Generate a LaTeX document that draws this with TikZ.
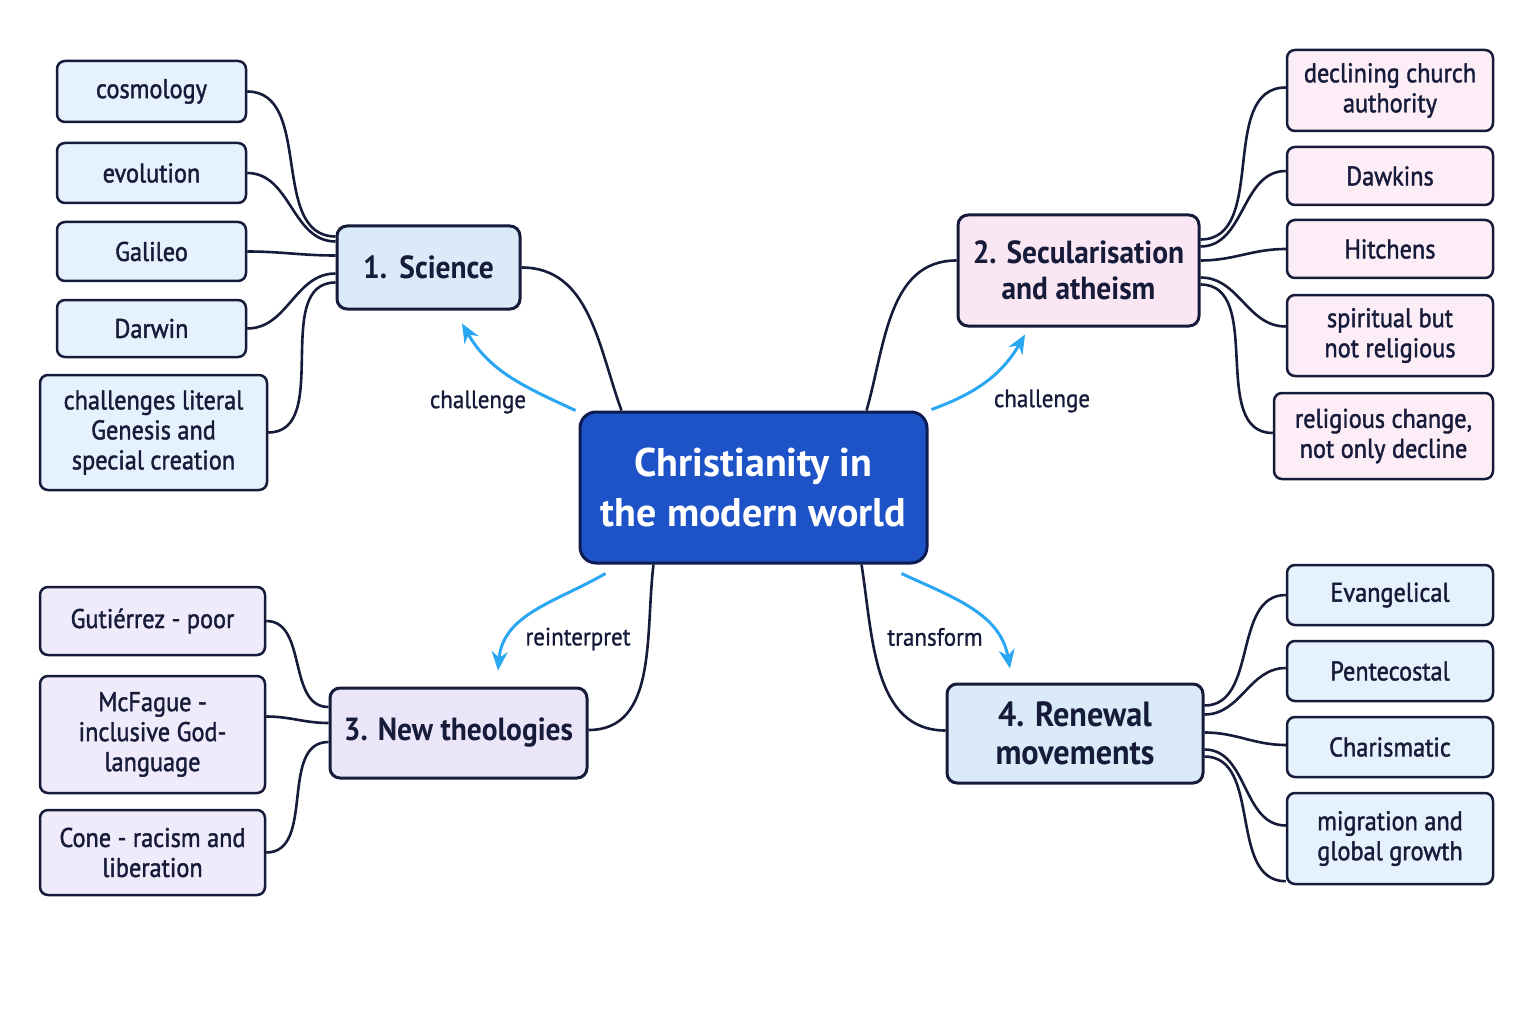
\documentclass[tikz,border=0pt]{standalone}
\usepackage{fontspec}
\setmainfont{PT Sans}
\newfontfamily\leaffont{PT Sans}[FakeStretch=0.9,FakeBold=1.5]
\newfontfamily\headfont{PT Sans}[FakeStretch=0.92]
\newfontfamily\cuefont{PT Sans}[FakeStretch=0.92,FakeBold=1]
\usetikzlibrary{arrows.meta}

\definecolor{inkNavy}{RGB}{22,27,58}
\definecolor{hubEdge}{RGB}{14,28,82}
\definecolor{hubBlue}{RGB}{30,82,199}
\definecolor{sciFill}{RGB}{218,234,249}
\definecolor{sciLeaf}{RGB}{229,241,252}
\definecolor{secFill}{RGB}{251,231,244}
\definecolor{secLeaf}{RGB}{252,237,247}
\definecolor{theoFill}{RGB}{235,229,249}
\definecolor{theoLeaf}{RGB}{240,235,251}
\definecolor{cueBlue}{RGB}{42,167,242}

\tikzset{every picture/.style={line width=2.5pt}}
\tikzset{
  hubbox/.style={draw=hubEdge, fill=hubBlue, line width=3pt, rounded corners=16pt, align=center,
    text=white, font=\bfseries\fontsize{40}{50}\selectfont, inner sep=0pt},
  branchbox/.style={draw=inkNavy, line width=3pt, rounded corners=10pt, align=center,
    text=inkNavy, font=\headfont\bfseries\fontsize{32}{36}\selectfont, inner sep=0pt},
  leafbox/.style={draw=inkNavy, rounded corners=8pt, align=center,
    text=inkNavy, font=\leaffont\fontsize{27}{30}\selectfont, inner sep=0pt},
  link/.style={draw=inkNavy, line width=2.6pt},
  cue/.style={draw=cueBlue, line width=3pt, -{Stealth[length=19pt,width=16pt]}},
  cuelabel/.style={text=inkNavy, font=\cuefont\fontsize{25}{28}\selectfont},
}

\begin{document}
\begin{tikzpicture}[x=1pt,y=-1pt]
  \fill[white] (0,0) rectangle (1536,1024);
  \useasboundingbox (0,0) rectangle (1536,1024);

  % centre and the four branches
  \node[hubbox, minimum width=347pt, minimum height=151pt] (hub) at (753.5,487.5) {Christianity in\\the modern world};
  \node[branchbox, fill=sciFill, minimum width=183pt, minimum height=83pt] (sci) at (428.5,267.5) {1.\ \hspace{5pt}Science};
  \node[branchbox, fill=secFill, minimum width=241pt, minimum height=111pt] (sec) at (1078.5,270.5) {2. Secularisation\\and atheism};
  \node[branchbox, fill=theoFill, minimum width=257pt, minimum height=90pt] (theo) at (458.5,733) {3. New theologies};
  \node[branchbox, fill=sciFill, minimum width=256pt, minimum height=99pt,
    font=\headfont\bfseries\fontsize{35}{38}\selectfont] (ren) at (1075,733.5) {4. Renewal\\movements};

  \node[leafbox, fill=sciLeaf, minimum width=189pt, minimum height=61pt] (cosmo) at (151.5,91.5) {cosmology};
  \node[leafbox, fill=sciLeaf, minimum width=189pt, minimum height=60pt] (evol) at (151.5,173) {evolution};
  \node[leafbox, fill=sciLeaf, minimum width=189pt, minimum height=59pt] (galil) at (151.5,251.5) {Galileo};
  \node[leafbox, fill=sciLeaf, minimum width=189pt, minimum height=57pt] (darw) at (151.5,328.5) {Darwin};
  \node[leafbox, fill=sciLeaf, minimum width=227pt, minimum height=115pt] (genes) at (153.5,432.5) {challenges literal\\Genesis and\\special creation};

  \node[leafbox, fill=secLeaf, minimum width=206pt, minimum height=81pt] (declin) at (1390,90.5) {declining church\\authority};
  \node[leafbox, fill=secLeaf, minimum width=206pt, minimum height=58pt] (dawk) at (1390,176) {Dawkins};
  \node[leafbox, fill=secLeaf, minimum width=206pt, minimum height=58pt] (hitch) at (1390,249) {Hitchens};
  \node[leafbox, fill=secLeaf, minimum width=206pt, minimum height=81pt] (spirit) at (1390,335.5) {spiritual but\\not religious};
  \node[leafbox, fill=secLeaf, minimum width=219pt, minimum height=86pt] (change) at (1383.5,436) {religious change,\\not only decline};

  \node[leafbox, fill=theoLeaf, minimum width=225pt, minimum height=68pt] (gutie) at (152.5,621) {Gutiérrez - poor};
  \node[leafbox, fill=theoLeaf, minimum width=225pt, minimum height=117pt] (mcfag) at (152.5,734.5) {McFague -\\inclusive God-\\language};
  \node[leafbox, fill=theoLeaf, minimum width=225pt, minimum height=85pt] (cone) at (152.5,852.5) {Cone - racism and\\liberation};

  \node[leafbox, fill=sciLeaf, minimum width=206pt, minimum height=60pt] (evang) at (1390,595) {Evangelical};
  \node[leafbox, fill=sciLeaf, minimum width=206pt, minimum height=60pt] (pente) at (1390,671) {Pentecostal};
  \node[leafbox, fill=sciLeaf, minimum width=206pt, minimum height=60pt] (chari) at (1390,747) {Charismatic};
  \node[leafbox, fill=sciLeaf, minimum width=206pt, minimum height=91pt] (migr) at (1390,838.5) {migration and\\global growth};

  % hub to branches
  \draw[link] (sci.east) to[out=0,in=110] ([xshift=43pt]hub.north west);
  \draw[link] ([xshift=-62pt]hub.north east) to[out=74,in=180] ([yshift=10pt]sec.west);
  \draw[link] ([xshift=75pt]hub.south west) to[out=-97,in=0] ([yshift=3pt]theo.east);
  \draw[link] ([xshift=-67pt]hub.south east) to[out=-81,in=180] ([yshift=3pt]ren.west);

  % branch to leaves
  \draw[link] (cosmo.east) to[out=0,in=180] ([yshift=31pt]sci.west);
  \draw[link] (evol.east) to[out=0,in=180] ([yshift=26pt]sci.west);
  \draw[link] (galil.east) to[out=0,in=180] ([yshift=12pt]sci.west);
  \draw[link] (darw.east) to[out=0,in=180] ([yshift=-6pt]sci.west);
  \draw[link] (genes.east) to[out=0,in=180] ([yshift=-15pt]sci.west);

  \draw[link] ([yshift=31pt]sec.east) to[out=0,in=180] ([yshift=3pt]declin.west);
  \draw[link] ([yshift=24pt]sec.east) to[out=0,in=180] ([yshift=5pt]dawk.west);
  \draw[link] ([yshift=10pt]sec.east) to[out=0,in=180] (hitch.west);
  \draw[link] ([yshift=-7pt]sec.east) to[out=0,in=180] ([yshift=9pt]spirit.west);
  \draw[link] ([yshift=-14pt]sec.east) to[out=0,in=180] ([yshift=3pt]change.west);

  \draw[link] (gutie.east) to[out=0,in=180] ([yshift=26pt]theo.west);
  \draw[link] ([yshift=18pt]mcfag.east) to[out=0,in=180] ([yshift=10pt]theo.west);
  \draw[link] (cone.east) to[out=0,in=180] ([yshift=-9pt]theo.west);

  \draw[link] ([yshift=28pt]ren.east) to[out=0,in=180] (evang.west);
  \draw[link] ([yshift=19pt]ren.east) to[out=0,in=180] ([yshift=3pt]pente.west);
  \draw[link] ([yshift=1pt]ren.east) to[out=0,in=180] ([yshift=2pt]chari.west);
  \draw[link] ([yshift=-16pt]ren.east) to[out=0,in=180] ([yshift=13pt]migr.west);
  \draw[link] ([yshift=-23pt]ren.east) to[out=0,in=180] ([yshift=4pt]migr.south west);

  % blue cues
  \draw[cue] ([xshift=-3pt]hub.north west) to[out=155,in=-60] ([xshift=33.5pt,yshift=-13pt]sci.south);
  \draw[cue] ([xshift=3pt,yshift=1pt]hub.north east) to[out=20,in=-120] ([xshift=-53.5pt,yshift=-7pt]sec.south);
  \draw[cue] ([xshift=27pt,yshift=-9pt]hub.south west) to[out=210,in=85] ([xshift=39.5pt,yshift=16pt]theo.north);
  \draw[cue] ([xshift=-27pt,yshift=-9pt]hub.south east) to[out=-25,in=100] ([xshift=-65pt,yshift=14pt]ren.north);

  \node[cuelabel] (lblsci) at (478,402) {challenge};
  \node[cuelabel] (lblsec) at (1042,401) {challenge};
  \node[cuelabel] (lbltheo) at (578,639) {reinterpret};
  \node[cuelabel] (lblren) at (935,637) {transform};
\end{tikzpicture}
\end{document}
